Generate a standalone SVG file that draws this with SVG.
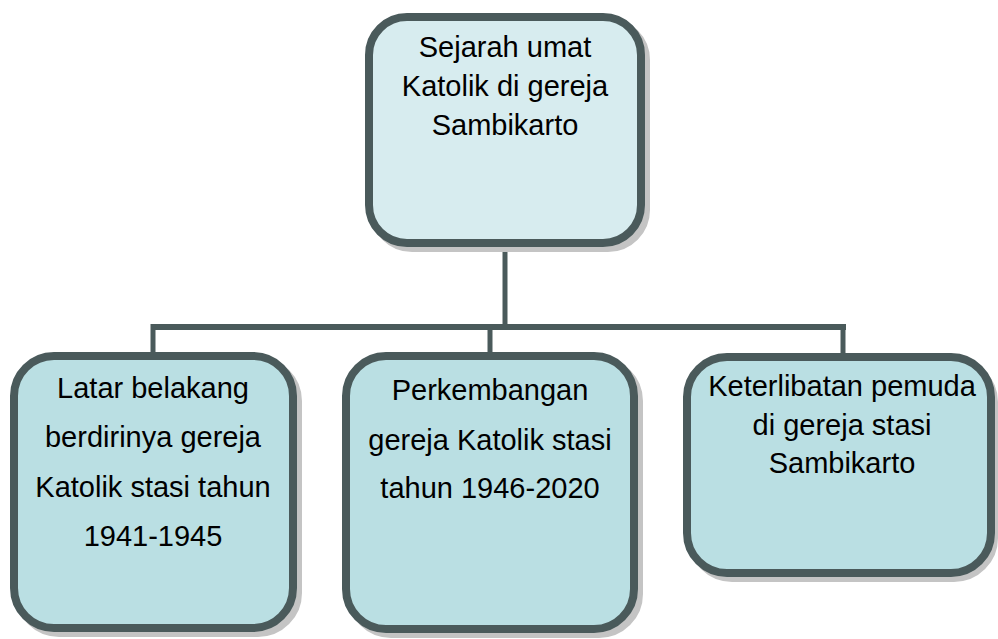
<svg xmlns="http://www.w3.org/2000/svg" width="998" height="639" viewBox="0 0 998 639">
<style>
.shadow{fill:#bdbdbd;stroke:#c4c4c4;stroke-width:8}
.box{stroke:#4a5a5b;stroke-width:8}
.top{fill:#d7ecef}
.child{fill:#badfe3}
.conn{stroke:#4a5a5b;fill:none}
text{font-family:"Liberation Sans",Arial,sans-serif;font-size:29px;fill:#000;text-anchor:middle}
</style>
<rect width="998" height="639" fill="#fff"/>
<g id="connectors">
<line class="conn" x1="505" y1="243" x2="505" y2="327" stroke-width="5"/>
<line class="conn" x1="151" y1="327" x2="846" y2="327" stroke-width="6"/>
<line class="conn" x1="153" y1="324" x2="153" y2="356" stroke-width="5"/>
<line class="conn" x1="490" y1="324" x2="490" y2="356" stroke-width="5"/>
<line class="conn" x1="843" y1="324" x2="843" y2="357" stroke-width="5"/>
</g>
<g id="root">
<rect class="shadow" x="374" y="22" width="272" height="226" rx="38"/>
<rect class="box top" x="369" y="17" width="272" height="226" rx="38"/>
<text x="505" y="57">Sejarah umat</text>
<text x="505" y="96">Katolik di gereja</text>
<text x="505" y="135">Sambikarto</text>
</g>
<g id="latar">
<rect class="shadow" x="19" y="361" width="279" height="272" rx="40"/>
<rect class="box child" x="14" y="356" width="279" height="272" rx="40"/>
<text x="153" y="398">Latar belakang</text>
<text x="153" y="447">berdirinya gereja</text>
<text x="153" y="497">Katolik stasi tahun</text>
<text x="153" y="546">1941-1945</text>
</g>
<g id="perkembangan">
<rect class="shadow" x="351" y="361" width="288" height="273" rx="40"/>
<rect class="box child" x="346" y="356" width="288" height="273" rx="40"/>
<text x="490" y="400">Perkembangan</text>
<text x="490" y="450">gereja Katolik stasi</text>
<text x="490" y="498">tahun 1946-2020</text>
</g>
<g id="keterlibatan">
<rect class="shadow" x="692" y="362" width="302" height="216" rx="40"/>
<rect class="box child" x="687" y="357" width="304" height="216" rx="40"/>
<text x="842" y="396">Keterlibatan pemuda</text>
<text x="842" y="435">di gereja stasi</text>
<text x="842" y="473">Sambikarto</text>
</g>
</svg>
